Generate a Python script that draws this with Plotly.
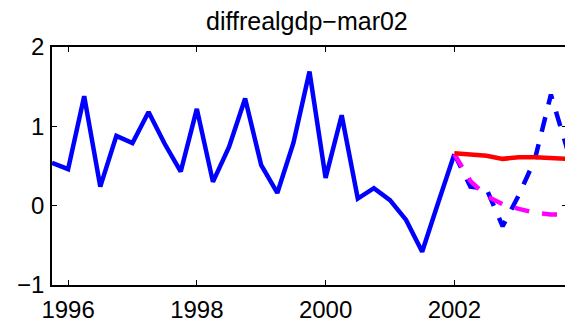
import plotly.graph_objects as go

# Historical quarterly data (year + quarter fraction)
hist_x = [1995.75 + 0.25 * i for i in range(26)]
hist_y = [0.54, 0.46, 1.38, 0.24, 0.88, 0.79, 1.18, 0.78, 0.43, 1.22,
          0.30, 0.74, 1.35, 0.51, 0.16, 0.79, 1.69, 0.35, 1.14, 0.09,
          0.22, 0.07, -0.18, -0.58, 0.04, 0.65]

# Forecast period
fc_x = [2002.0 + 0.25 * i for i in range(8)]
fc_red = [0.66, 0.64, 0.63, 0.59, 0.61, 0.61, 0.60, 0.59]
fc_blue = [0.65, 0.24, 0.21, -0.26, 0.13, 0.58, 1.40, 0.72]
fc_magenta = [0.65, 0.31, 0.12, 0.02, -0.04, -0.09, -0.11, -0.11]

x_ticks = [1996, 1998, 2000, 2002]
x_ticklabels = ["1996", "1998", "2000", "2002"]
y_ticks = [-1, 0, 1, 2]
y_ticklabels = ["\u22121", "0", "1", "2"]

title_text = "diffrealgdp\u2212mar02"

font_family = "Liberation Sans, Arial, Helvetica, sans-serif"

fig = go.Figure()
fig.add_trace(go.Scatter(x=hist_x, y=hist_y, mode="lines",
                         line=dict(color="#0000FF", width=4.5), showlegend=False))
fig.add_trace(go.Scatter(x=fc_x, y=fc_blue, mode="lines",
                         line=dict(color="#0000FF", width=4.5, dash="15px,13px"), showlegend=False))
fig.add_trace(go.Scatter(x=fc_x, y=fc_magenta, mode="lines",
                         line=dict(color="#FF00FF", width=4.5, dash="15px,13px"), showlegend=False))
fig.add_trace(go.Scatter(x=fc_x, y=fc_red, mode="lines",
                         line=dict(color="#FF0000", width=4.5), showlegend=False))

# page body has an 8px margin, so the figure is sized to fit the window
fig.update_layout(
    width=565, height=317,
    margin=dict(l=44, r=6, t=39, b=40, autoexpand=False),
    paper_bgcolor="white", plot_bgcolor="white",
    font=dict(family=font_family, size=24, color="black"),
    title=dict(text=title_text, x=0.529, xanchor="center",
               y=1.0, yanchor="top", yref="container", pad=dict(t=4),
               font=dict(family=font_family, size=25, color="black")),
)
fig.update_xaxes(range=[1995.75, 2003.75], tickmode="array",
                 tickvals=x_ticks, ticktext=x_ticklabels,
                 showgrid=False, zeroline=False, automargin=False,
                 showline=True, linecolor="black", linewidth=1.5, mirror="ticks",
                 ticks="inside", ticklen=5, tickcolor="black", tickwidth=1,
                 ticklabelstandoff=2)
fig.update_yaxes(range=[-1, 2], tickmode="array",
                 tickvals=y_ticks, ticktext=y_ticklabels,
                 showgrid=False, zeroline=False, automargin=False,
                 showline=True, linecolor="black", linewidth=1.5, mirror="ticks",
                 ticks="inside", ticklen=5, tickcolor="black", tickwidth=1,
                 ticklabelstandoff=1)

fig.write_html("out.html")
